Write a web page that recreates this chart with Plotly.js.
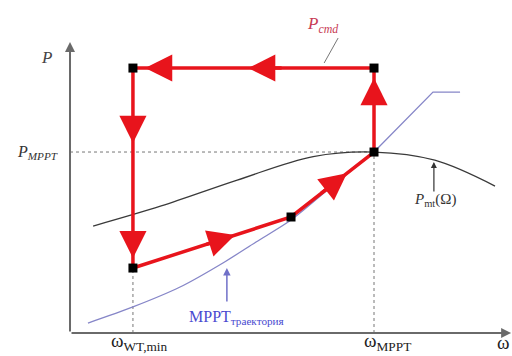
<!DOCTYPE html>
<html>
<head>
<meta charset="utf-8">
<script src="https://cdn.plot.ly/plotly-3.0.1.min.js"></script>
<style>
  html, body { margin: 0; padding: 0; background: #fff; }
  #myPlot { width: 512px; height: 356px; }
</style>
</head>
<body>
<div id="myPlot"></div>
<script>
// relative units: omega / omega_MPPT and P / P_MPPT
const wMin = 0.207;
const wMppt = 1.0;
const pMppt = 1.0;
const pCmd = 1.464;

// control path (red) : MPPT point -> up to Pcmd -> left -> down -> back along MPPT curve
const pathW = [1.0, 1.0, 0.207, 0.207, 0.727, 1.0];
const pathP = [1.0, 1.464, 1.464, 0.359, 0.641, 1.0];

// turbine power curve Pmt(Omega)
const pmtW = [0.076, 0.30, 0.55, 0.80, 1.0, 1.20, 1.398];
const pmtP = [0.591, 0.702, 0.845, 0.975, 1.0, 0.955, 0.812];

// MPPT trajectory
const mpptW = [0.059, 0.207, 0.362, 0.503, 0.612, 0.727, 0.855, 1.0];
const mpptP = [0.055, 0.144, 0.254, 0.387, 0.503, 0.624, 0.801, 1.0];
// upper part of the trajectory (straight, then flat)
const mpptTopW = [1.0, 1.194, 1.283];
const mpptTopP = [1.0, 1.331, 1.331];

// direction arrows on the red path (tail -> tip)
const arrowTailW = [1.0, 0.701, 0.336, 0.207, 0.207, 0.444, 0.822];
const arrowTailP = [1.26, 1.464, 1.464, 1.160, 0.536, 0.487, 0.766];
const arrowTipW = [1.0, 0.586, 0.247, 0.207, 0.207, 0.543, 0.911];
const arrowTipP = [1.409, 1.464, 1.464, 1.050, 0.414, 0.541, 0.883];

const red = '#e8141c';
const serif = 'Liberation Serif, Times New Roman, serif';

const data = [
  {
    x: pmtW, y: pmtP, mode: 'lines',
    line: {color: '#3a3a3a', width: 1.3, shape: 'spline', smoothing: 1}
  },
  {
    x: mpptW, y: mpptP, mode: 'lines',
    line: {color: '#8686c8', width: 1.3, shape: 'spline', smoothing: 0.8}
  },
  {
    x: mpptTopW, y: mpptTopP, mode: 'lines',
    line: {color: '#8686c8', width: 1.3}
  },
  {
    x: pathW, y: pathP, mode: 'lines',
    line: {color: red, width: 3.5}
  },
  {
    x: pathW.slice(0, 5), y: pathP.slice(0, 5), mode: 'markers',
    marker: {color: '#000', symbol: 'square', size: 9}
  }
];

const shapes = [
  // dotted guide lines
  {type: 'line', x0: 0, x1: wMppt, y0: pMppt, y1: pMppt,
   line: {color: '#777', width: 1, dash: 'dot'}, layer: 'below'},
  {type: 'line', x0: wMin, x1: wMin, y0: 0, y1: 0.359,
   line: {color: '#777', width: 1, dash: 'dot'}, layer: 'below'},
  {type: 'line', x0: wMppt, x1: wMppt, y0: 0, y1: pMppt,
   line: {color: '#777', width: 1, dash: 'dot'}, layer: 'below'},
  // leader line to Pcmd
  {type: 'line', x0: 0.882, x1: 0.836, y0: 1.630, y1: 1.492,
   line: {color: '#777', width: 1}}
];

const annotations = [];

// axes drawn as arrows
annotations.push({x: 0, y: 1.608, ax: 0, ay: 0, xref: 'x', yref: 'y', axref: 'x', ayref: 'y',
  text: '', showarrow: true, arrowhead: 2, arrowsize: 1, arrowwidth: 2, arrowcolor: '#6a6a6a'});
annotations.push({x: 1.451, y: 0, ax: 0, ay: 0, xref: 'x', yref: 'y', axref: 'x', ayref: 'y',
  text: '', showarrow: true, arrowhead: 2, arrowsize: 1, arrowwidth: 2, arrowcolor: '#6a6a6a'});

for (let i = 0; i < arrowTipW.length; i++) {
  annotations.push({
    x: arrowTipW[i], y: arrowTipP[i], ax: arrowTailW[i], ay: arrowTailP[i],
    xref: 'x', yref: 'y', axref: 'x', ayref: 'y',
    text: '', showarrow: true, arrowhead: 2, arrowsize: 1.55, arrowwidth: 3.5, arrowcolor: red
  });
}

// leader arrows
annotations.push({x: 1.197, y: 0.945, ax: 1.197, ay: 0.773, xref: 'x', yref: 'y', axref: 'x', ayref: 'y',
  text: '', showarrow: true, arrowhead: 2, arrowsize: 1, arrowwidth: 1.2, arrowcolor: '#333'});
annotations.push({x: 0.516, y: 0.359, ax: 0.516, ay: 0.166, xref: 'x', yref: 'y', axref: 'x', ayref: 'y',
  text: '', showarrow: true, arrowhead: 2, arrowsize: 1, arrowwidth: 1.5, arrowcolor: '#7070c8'});

// text labels
function label(x, y, text, size, color) {
  annotations.push({x: x, y: y, xref: 'x', yref: 'y', text: text, showarrow: false,
    font: {family: serif, size: size, color: color}});
}
label(-0.076, 1.52, '<i>P</i>', 17, '#444');
label(-0.108, pMppt, '<i>P</i><sub><i>MPPT</i></sub>', 16, '#333');
label(0.830, 1.70, '<i>P</i><sub><i>cmd</i></sub>', 17, '#c83c55');
label(1.200, 0.735, '<i>P</i><sub>mt</sub>(Ω)', 15, '#333');
label(0.548, 0.085, 'MPPT<sub>траектория</sub>', 16, '#4a4ad0');
label(0.230, -0.052, 'ω<sub>WT,min</sub>', 19, '#222');
label(1.045, -0.052, 'ω<sub>MPPT</sub>', 19, '#222');
label(1.425, -0.052, 'ω', 19, '#222');

const layout = {
  width: 512, height: 356,
  margin: {l: 0, r: 0, t: 0, b: 0},
  paper_bgcolor: '#fff', plot_bgcolor: '#fff',
  showlegend: false,
  xaxis: {range: [-0.2303, 1.4539], visible: false, fixedrange: true},
  yaxis: {range: [-0.127, 1.840], visible: false, fixedrange: true},
  shapes: shapes,
  annotations: annotations
};

Plotly.newPlot('myPlot', data, layout, {staticPlot: true});
</script>
</body>
</html>
